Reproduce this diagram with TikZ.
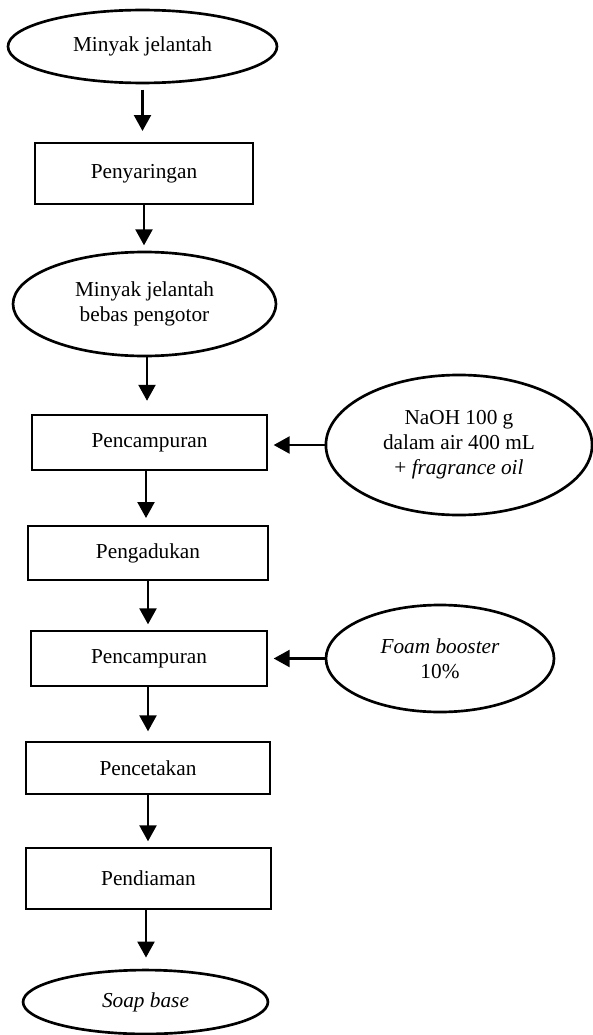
\documentclass[tikz,border=0pt]{standalone}
\usepackage{fontspec}
\setmainfont{Liberation Serif}
\usetikzlibrary{shapes.geometric,arrows.meta}

\tikzset{
  kotak/.style={draw,rectangle,inner sep=0pt},
  elips/.style={draw,ellipse,inner sep=0pt,align=center},
  panah/.style={-{Triangle[width=9.5pt,length=9pt]},shorten >=3pt}
}

\begin{document}
\begin{tikzpicture}[x=0.5635pt,y=-0.5635pt,line width=1.5pt,
  font=\fontsize{12}{14}\selectfont]

\useasboundingbox (0,0) rectangle (593,1035);

% --- Kolom utama ---
\node[elips,minimum width=151.6pt,minimum height=41.1pt] (minyak) at (142.5,46.5) {Minyak jelantah};
\node[kotak,minimum width=122.8pt,minimum height=34.4pt] (saring) at (144,173.5) {Penyaringan};
\node[elips,minimum width=148.2pt,minimum height=58.6pt] (bersih) at (144.5,304) {Minyak jelantah\\bebas pengotor};
\node[kotak,minimum width=132.4pt,minimum height=31pt] (campur1) at (149.5,442.5) {Pencampuran};
\node[kotak,minimum width=135.2pt,minimum height=30.4pt] (aduk) at (148,553) {Pengadukan};
\node[kotak,minimum width=133pt,minimum height=31pt] (campur2) at (149,658.5) {Pencampuran};
\node[kotak,minimum width=137.5pt,minimum height=29.3pt] (cetak) at (148,768) {Pencetakan};
\node[kotak,minimum width=138pt,minimum height=34.4pt] (diam) at (148.5,878.5) {Pendiaman};
\node[elips,minimum width=138pt,minimum height=36pt] (soap) at (145.5,1002) {\textit{Soap base}};

% --- Bahan tambahan ---
\node[elips,minimum width=150pt,minimum height=78.9pt] (naoh) at (459,445) {NaOH 100 g\\dalam air 400 mL\\+ \textit{fragrance oil}};
\node[elips,minimum width=128.5pt,minimum height=60.3pt] (foam) at (440,658.5) {\textit{Foam booster}\\10\%};

% --- Panah ---
\draw[panah,shorten <=3pt,shorten >=6pt] (minyak.south) -- (minyak.south |- saring.north);
\draw[panah] (saring.south) -- (saring.south |- bersih.north);
\draw[panah,shorten >=8pt] (147,356) -- (147,415);
\draw[panah,shorten >=4.5pt] (campur1.south -| 146,0) -- (146,526);
\draw[panah] (aduk.south) -- (aduk.south |- campur2.north);
\draw[panah,shorten >=6pt] (campur2.south -| 148,0) -- (148,742);
\draw[panah] (cetak.south) -- (cetak.south |- diam.north);
\draw[panah,shorten >=7pt] (diam.south -| 146,0) -- (146,970);

\draw[panah] (naoh.west) -- (naoh.west -| campur1.east);
\draw[panah] (foam.west) -- (foam.west -| campur2.east);

\end{tikzpicture}
\end{document}
